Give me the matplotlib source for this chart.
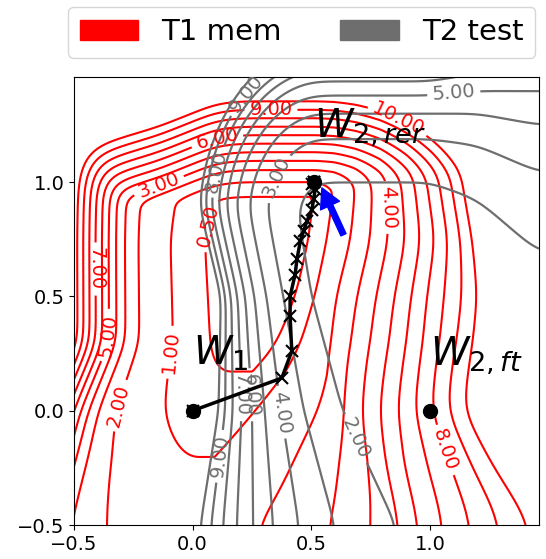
import numpy as np
import matplotlib
matplotlib.use("Agg")
import matplotlib.pyplot as plt
from matplotlib.patches import Patch

# ---------------- data ----------------
red_levels = [0.5, 1, 2, 3, 4, 5, 6, 7, 8, 9, 10]
gray_levels = [2, 3, 4, 5, 6, 7, 8, 9, 10]

# T1 (memorisation) loss landscape
t1_knot_y = [-0.5, -0.2, 0.0, 0.3, 0.5, 0.75, 1.0, 1.46]
t1_floor = [1.4, 1.0, 0.7, 0.35, 0.33, 0.3, 0.45, 0.45]
t1_left_edge = [-0.07, 0.03, 0.09, 0.22, 0.22, 0.22, 0.22, 0.22]
t1_left_curv = 7.0
t1_left_wall = (0.50, 30.0, 0.04)      # start, slope, softness
# right flank: x position (per row) where the loss is `excess` above the floor
t1_right_rows = [-0.5, -0.25, 0.0, 0.25, 0.5, 0.75, 1.0, 1.46]
t1_right_excess = [0, 0.5, 1.5, 3, 5, 7, 9, 11]
t1_right_x = [
    [0.00, 0.25, 0.56, 0.82, 0.985, 1.22, 1.47, 1.75],
    [0.08, 0.30, 0.56, 0.745, 0.90, 1.095, 1.275, 1.45],
    [0.15, 0.33, 0.575, 0.69, 0.84, 0.985, 1.12, 1.26],
    [0.30, 0.42, 0.565, 0.69, 0.85, 0.99, 1.13, 1.27],
    [0.40, 0.50, 0.59, 0.72, 0.875, 1.01, 1.16, 1.28],
    [0.45, 0.545, 0.65, 0.775, 0.92, 1.04, 1.145, 1.24],
    [0.51, 0.595, 0.685, 0.79, 0.905, 1.01, 1.11, 1.20],
    [0.51, 0.595, 0.685, 0.79, 0.905, 1.01, 1.11, 1.20],
]
t1_top_slope = 27.0
t1_top_knot_x = [-0.5, -0.4, -0.14, 0.1, 0.2, 0.5, 1.46]
t1_top_start = [0.79, 0.81, 0.89, 0.99, 1.0, 1.0, 1.0]
t1_corner_knot_x = [-0.5, 0.0, 0.4, 1.46]
t1_corner_pow = [4.0, 4.0, 1.5, 1.5]

# T2 (test) loss landscape
t2_knot_y = [-0.5, 0.0, 0.5, 0.9, 1.46]
t2_wall_x = [1.10, 0.787, 0.615, 0.56, 0.56]
t2_wall_w = [0.381, 0.242, 0.177, 0.19, 0.19]
t2_knot_x = [-0.5, 0.5, 1.0, 1.2, 1.46]
t2_roof_y = [0.82, 0.82, 0.82, 0.70, 0.36]
t2_roof_w = [0.28, 0.28, 0.28, 0.35, 0.52]

# optimisation path W1 -> W2,rer
path_x = [0.0, 0.376, 0.418, 0.411, 0.411, 0.432, 0.44, 0.454, 0.468, 0.482,
          0.503, 0.51, 0.517, 0.51, 0.505, 0.51]
path_y = [0.0, 0.143, 0.26, 0.414, 0.50, 0.596, 0.662, 0.743, 0.786, 0.83,
          0.88, 0.925, 0.97, 1.0, 0.99, 1.0]
pts = {"W1": (0.0, 0.0), "W2ft": (1.0, 0.0), "W2rer": (0.51, 1.0)}

red_label_pos = [(0.14, 0.79), (-0.05, 0.25), (-0.26, 0.01), (-0.14, 0.98),
                 (0.83, 0.89), (-0.36, 0.33), (0.1, 1.2), (-0.41, 0.62),
                 (1.07, -0.17), (0.33, 1.31), (0.86, 1.26)]
gray_label_pos = [(0.22, 1.39), (1.1, 1.4), (0.33, 1.03), (0.35, -0.01),
                  (0.25, 0.07), (0.19, 0.07), (0.12, -0.2), (0.67, -0.13),
                  (0.09, 1.05)]

# ---------------- fields ----------------
xs = np.linspace(-0.5, 1.46, 400)
ys = np.linspace(-0.5, 1.46, 400)
X, Y = np.meshgrid(xs, ys)


def smooth_param(grid, knots, vals, sig=10):
    v = np.interp(grid, knots, vals)
    k = np.exp(-0.5 * (np.arange(-3 * sig, 3 * sig + 1) / sig) ** 2)
    k /= k.sum()
    vp = np.pad(v, 3 * sig, mode="edge")
    return np.convolve(vp, k, mode="valid")


def softplus(z, k):
    return np.logaddexp(0, k * z) / k

m = smooth_param(ys, t1_knot_y, t1_floor)[:, None]
cl = smooth_param(ys, t1_knot_y, t1_left_edge)[:, None]
ty = smooth_param(xs, t1_top_knot_x, t1_top_start)[None, :]
pw = smooth_param(xs, t1_corner_knot_x, t1_corner_pow)[None, :]

# right flank from the row table
rx = np.array(t1_right_x)
pos = np.stack([smooth_param(ys, t1_right_rows, rx[:, j], sig=14)
                for j in range(rx.shape[1])], axis=1)
ex = np.array(t1_right_excess, float)
R = np.zeros_like(X)
for i in range(len(ys)):
    p = pos[i]
    r = np.interp(xs, p, ex)
    slope = (ex[-1] - ex[-2]) / (p[-1] - p[-2])
    beyond = xs > p[-1]
    r[beyond] = ex[-1] + slope * (xs[beyond] - p[-1])
    r[xs < p[0]] = 0
    R[i] = r

uL = np.maximum(cl - X, 0)
w0, ws, wsoft = t1_left_wall
side = t1_left_curv * uL ** 2 + ws * softplus(uL - w0, 1 / wsoft) + R
top = t1_top_slope * softplus(Y - ty, 1 / 0.03)
F1 = m + (side ** pw + top ** pw) ** (1 / pw)

x0 = smooth_param(ys, t2_knot_y, t2_wall_x)[:, None]
sa = smooth_param(ys, t2_knot_y, t2_wall_w)[:, None]
y0 = smooth_param(xs, t2_knot_x, t2_roof_y)[None, :]
sb = smooth_param(xs, t2_knot_x, t2_roof_w)[None, :]
A = softplus((x0 - X) / sa, 5)
B = softplus((Y - y0) / sb, 5)
F2 = 1.5 + 0.55 * (np.exp(np.sqrt(A ** 2 + B ** 2)) - 1)

# ---------------- plot ----------------
gray = "#6e6e6e"
fig = plt.figure(figsize=(5.46, 5.59), dpi=100)
ax = fig.add_axes([0.1355, 0.0608, 0.8516, 0.8014])

cs1 = ax.contour(X, Y, F1, levels=red_levels, colors="red", linewidths=1.5, zorder=1)
ax.clabel(cs1, fmt="%.2f", fontsize=14, inline=True, manual=red_label_pos)
cs2 = ax.contour(X, Y, F2, levels=gray_levels, colors=gray, linewidths=1.6, zorder=2)
ax.clabel(cs2, fmt="%.2f", fontsize=14, inline=True, manual=gray_label_pos)

ax.plot(path_x, path_y, "-x", color="black", lw=2.5, ms=8, mew=1.5, zorder=5)
for k in ["W1", "W2ft", "W2rer"]:
    ax.plot(*pts[k], "o", color="black", ms=10, zorder=6)

ax.text(0.0, 0.2, r"$W_1$", fontsize=28, zorder=7)
ax.text(1.0, 0.2, r"$W_{2,ft}$", fontsize=28, zorder=7)
ax.text(0.51, 1.2, r"$W_{2,rer}$", fontsize=28, zorder=7)

ax.annotate("", xy=(0.545, 0.975), xytext=(0.636, 0.77),
            arrowprops=dict(facecolor="blue", edgecolor="blue", width=4,
                            headwidth=15, headlength=14), zorder=8)

ax.set_xlim(-0.5, 1.46)
ax.set_ylim(-0.5, 1.46)
ax.set_xticks([-0.5, 0.0, 0.5, 1.0])
ax.set_yticks([-0.5, 0.0, 0.5, 1.0])
ax.tick_params(labelsize=14)

handles = [Patch(color="red"), Patch(color=gray)]
ax.legend(handles, ["T1 mem", "T2 test"], fontsize=21, ncol=2,
          loc="lower center", bbox_to_anchor=(0.49, 1.01))

fig.savefig("out.png", dpi=100)
